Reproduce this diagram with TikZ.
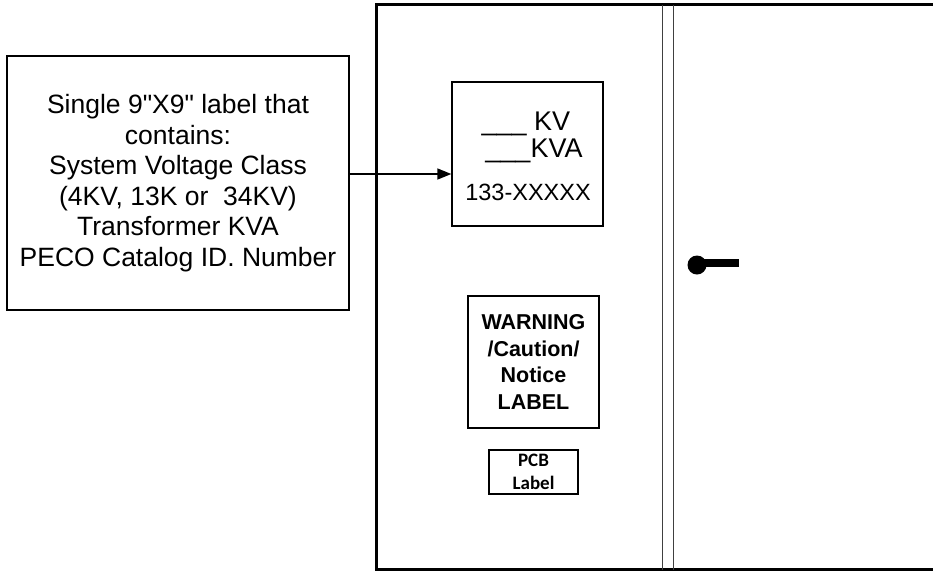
\documentclass[tikz,border=0pt]{standalone}
\usepackage{fontspec}
\setmainfont{Liberation Sans}
\newfontfamily\pcbfont{Carlito}
\usetikzlibrary{arrows.meta}

\tikzset{
  labelbox/.style={draw, line width=1.3pt, inner sep=0pt, align=center},
  warnbox/.style={draw, line width=2.4pt, inner sep=0pt, align=center},
  pcbbox/.style={draw, line width=2pt, inner sep=0pt, align=center},
  arr/.style={-{Triangle[length=14pt,width=11pt]}, line width=1.4pt}
}

\begin{document}
\begin{tikzpicture}[x=1pt,y=-1pt]
  \clip (0,0) rectangle (933,571);
  \def\ytop{4.7}
  \def\ybot{569.5}
  \def\xleft{376}
  % cabinet outline, right side runs off the page
  \draw[line width=3pt] (945,\ytop) -- (\xleft,\ytop) -- (\xleft,\ybot) -- (945,\ybot);
  % door gap
  \foreach \x in {662,673}
    \draw[line width=1pt, black!75] (\x,\ytop) -- (\x,\ybot);
  %
  \node[labelbox, minimum width=342pt, minimum height=254pt,
        font=\fontsize{26.5}{30.5}\selectfont] (note) at (178,183)
    {Single 9\textquotedbl X9\textquotedbl{} label that\\contains:\\System Voltage Class\\(4KV, 13K or \ 34KV)\\Transformer KVA\\PECO Catalog ID. Number};
  %
  \node[labelbox, minimum width=151pt, minimum height=144pt] (kvbox) at (527.5,154) {};
  \node[font=\fontsize{27}{27}\selectfont] (kv) at (526,124) {\_\_\_ KV};
  \node[font=\fontsize{27}{27}\selectfont] (kva) at (534,151) {\_\_\_KVA};
  \node[font=\fontsize{23.5}{23.5}\selectfont] (part) at (528,192) {133-XXXXX};
  %
  \draw[arr] ([yshift=9pt]note.east) -- ([yshift=-20pt]kvbox.west);
  %
  \node[warnbox, minimum width=131pt, minimum height=132pt,
        font=\bfseries\fontsize{21.5}{26.5}\selectfont] (warn) at (533.5,362)
    {WARNING\\/Caution/\\Notice\\LABEL};
  \node[pcbbox, minimum width=89pt, minimum height=44pt,
        font=\pcbfont\bfseries\fontsize{19}{23}\selectfont] (pcb) at (533.5,472)
    {PCB\\Label};
  % door handle
  \fill (697,265) circle (9.5);
  \draw[line width=8pt] (697,263) -- (739,263);
\end{tikzpicture}
\end{document}
